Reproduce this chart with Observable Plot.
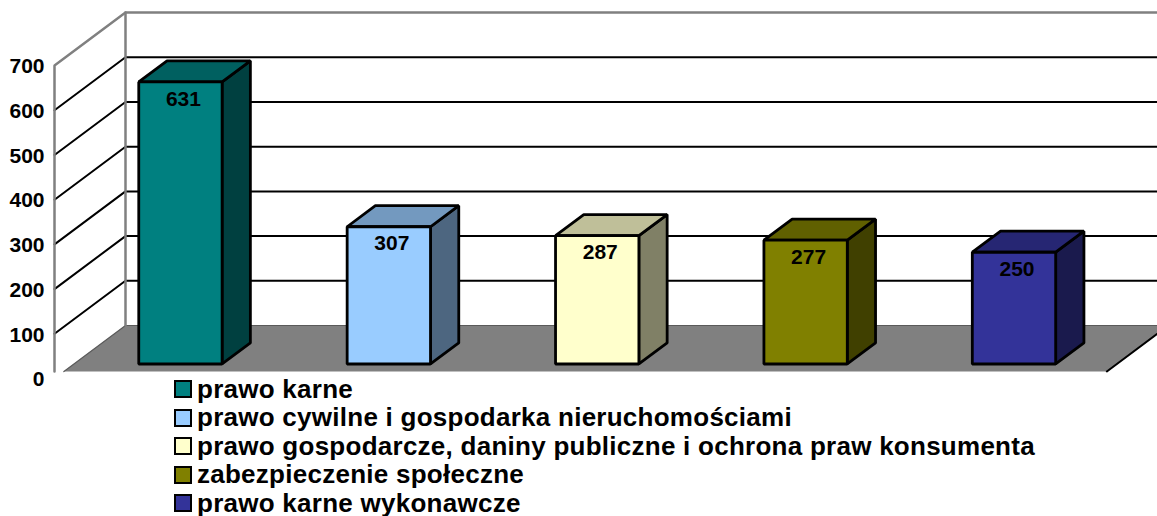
<!DOCTYPE html>
<html>
<head>
<meta charset="utf-8">
<script src="https://cdn.jsdelivr.net/npm/d3@7"></script>
<script src="https://cdn.jsdelivr.net/npm/@observablehq/plot@0.6"></script>
<style>
  html, body { margin: 0; padding: 0; background: #fff; overflow: hidden; }
  #legend { margin: -15px 0 0 174px; font: bold 26px "Liberation Sans", Arial, sans-serif; letter-spacing: 0.26px; color: #000; }
  .row { display: flex; align-items: center; height: 28.5px; white-space: nowrap; }
  .sw { width: 14px; height: 14px; border: 2.5px solid #000; margin-right: 5px; flex: none; }
</style>
</head>
<body>
<div id="chart"></div>
<div id="legend"></div>
<script>
const categories = [
  "prawo karne",
  "prawo cywilne i gospodarka nieruchomościami",
  "prawo gospodarcze, daniny publiczne i ochrona praw konsumenta",
  "zabezpieczenie społeczne",
  "prawo karne wykonawcze"
];
const values = [631, 307, 287, 277, 250];
const frontColors = ["#008080", "#99CCFF", "#FFFFCC", "#808000", "#333399"];
const topColors = ["#006060", "#7399BF", "#BFBF99", "#606000", "#262673"];
const sideColors = ["#004040", "#4D6680", "#808066", "#404000", "#1A1A4D"];
const gridTicks = [100, 200, 300, 400, 500, 600];
const axisTicks = [0, 100, 200, 300, 400, 500, 600, 700];

// oblique projection: depth z runs 0 (front plane) to 1 (back wall)
const xDomain = [-0.511, 4.782];
const yDomain = [-26.8, 845.6];
const depthX = 0.3407, depthY = 118.6;
const halfBar = 0.2, zFront = 0.274, zBack = 0.672, zFloor = 0.132;
const xLeft = xDomain[0], xRight = 4.494;
const P = (x, v, z) => ({x: x + z * depthX, y: v + z * depthY});

const poly = (pts, fill, stroke, strokeWidth) =>
  Plot.line(pts, {x: "x", y: "y", fill, stroke, strokeWidth, curve: "linear-closed", strokeLinejoin: "miter"});
const path = (pts, stroke, strokeWidth) =>
  Plot.line(pts, {x: "x", y: "y", stroke, strokeWidth, curve: "linear", strokeLinejoin: "miter"});

const marks = [];
// floor
marks.push(poly([P(xLeft, 0, zFloor), P(xLeft, 0, 1), P(xRight, 0, 1), P(xRight, 0, zFloor)], "#808080", "none", 0));
marks.push(path([P(xLeft, 0, zFloor), P(xLeft, 0, 1), P(xRight, 0, 1)], "#5a5a5a", 1.2));
marks.push(path([P(xRight, 0, zFloor), P(xRight, 0, 1)], "#000", 2));
// grid on side wall and back wall
for (const t of gridTicks) marks.push(path([P(xLeft, t, 0), P(xLeft, t, 1), P(xRight, t, 1)], "#000", 2));
// wall frame
marks.push(path([P(xLeft, zFloor * depthY, 0), P(xLeft, 700, 0), P(xLeft, 700, 1), P(xRight, 700, 1)], "#808080", 2.5));
marks.push(path([P(xLeft, 0, 1), P(xLeft, 700, 1)], "#808080", 2.5));
// bars
values.forEach((v, i) => {
  const a = i - halfBar, b = i + halfBar;
  marks.push(poly([P(b, 0, zFront), P(b, 0, zBack), P(b, v, zBack), P(b, v, zFront)], sideColors[i], "#000", 2.8));
  marks.push(poly([P(a, v, zFront), P(a, v, zBack), P(b, v, zBack), P(b, v, zFront)], topColors[i], "#000", 2.8));
  marks.push(poly([P(a, 0, zFront), P(a, v, zFront), P(b, v, zFront), P(b, 0, zFront)], frontColors[i], "#000", 2.8));
});
// value labels
marks.push(Plot.text(values.map((v, i) => ({...P(i, v, zFront), v})), {
  x: "x", y: "y", text: "v", dx: 3, dy: 17, fontSize: 21, fill: "#000"
}));
// axis
marks.push(Plot.axisY({ticks: axisTicks, tickSize: 0, tickPadding: 10, fontSize: 21, label: null, tickFormat: "d", dy: 1}));

const chart = Plot.plot({
  width: 1157,
  height: 390,
  marginLeft: 54,
  marginRight: 0,
  marginTop: 0,
  marginBottom: 0,
  x: {domain: xDomain, axis: null},
  y: {domain: yDomain},
  style: {fontFamily: "'Liberation Sans', Arial, sans-serif", fontWeight: "bold", color: "#000", overflow: "hidden"},
  marks
});
document.getElementById("chart").appendChild(chart);

const legend = d3.select("#legend");
categories.forEach((c, i) => {
  const row = legend.append("div").attr("class", "row");
  row.append("span").attr("class", "sw").style("background", frontColors[i]);
  row.append("span").text(c);
});
</script>
</body>
</html>
